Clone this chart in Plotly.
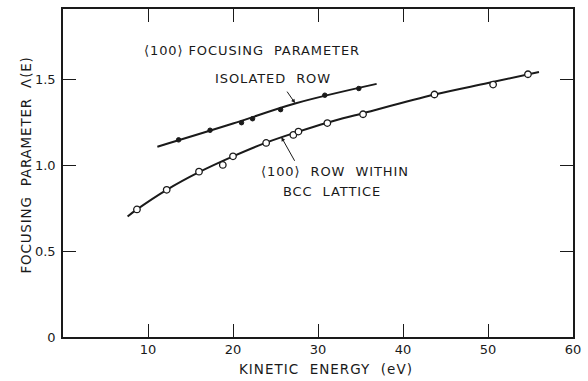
import plotly.graph_objects as go

# Data
iso_x = [13.6, 17.3, 21.0, 22.3, 25.6, 30.8, 34.8]
iso_y = [1.148, 1.204, 1.248, 1.271, 1.324, 1.408, 1.447]

bcc_x = [8.7, 12.2, 16.0, 18.8, 20.0, 23.9, 27.1, 27.7, 31.1, 35.3, 43.7, 50.6, 54.7]
bcc_y = [0.743, 0.857, 0.963, 1.002, 1.052, 1.130, 1.177, 1.196, 1.246, 1.297, 1.412, 1.470, 1.530]

# Hand-drawn fitted curves
iso_curve_x = [11.1, 20.0, 27.3, 36.9]
iso_curve_y = [1.108, 1.243, 1.360, 1.474]

bcc_curve_x = [7.6, 8.7, 12.2, 16.0, 20.0, 23.9, 27.7, 31.1, 35.3, 43.7, 50.0, 56.0]
bcc_curve_y = [0.702, 0.743, 0.857, 0.960, 1.052, 1.132, 1.196, 1.248, 1.303, 1.412, 1.479, 1.543]

x_ticks = [10, 20, 30, 40, 50, 60]
x_ticktext = ["10", "20", "30", "40", "50", "60"]
y_ticks = [0, 0.5, 1.0, 1.5]
y_ticktext = ["0", "0.5", "1.0", "1.5"]

FONT = "DejaVu Sans"
INK = "#1a1a1a"

fig = go.Figure()
fig.add_trace(go.Scatter(x=iso_curve_x, y=iso_curve_y, mode="lines",
                         line=dict(color=INK, width=2, shape="spline"), hoverinfo="skip"))
fig.add_trace(go.Scatter(x=bcc_curve_x, y=bcc_curve_y, mode="lines",
                         line=dict(color=INK, width=2, shape="spline"), hoverinfo="skip"))
fig.add_trace(go.Scatter(x=iso_x, y=iso_y, mode="markers",
                         marker=dict(symbol="circle", size=4.5, color=INK,
                                     line=dict(color=INK, width=1))))
fig.add_trace(go.Scatter(x=bcc_x, y=bcc_y, mode="markers",
                         marker=dict(symbol="circle", size=6.5, color="white",
                                     line=dict(color=INK, width=1.3))))

nb = "\u00a0"


def spaced(s, ls=0.9):
    return f'<span style="letter-spacing:{ls}px">{s}</span>'


ann = [
    dict(x=22.25, y=1.671, text=spaced(f"⟨100⟩{nb}FOCUSING{nb}{nb}PARAMETER"), showarrow=False,
         xanchor="center", yanchor="middle", font=dict(size=13)),
    dict(x=24.76, y=1.507, text=spaced(f"ISOLATED{nb}{nb}ROW"), showarrow=False,
         xanchor="center", yanchor="middle", font=dict(size=13)),
    dict(x=31.95, y=0.963, text=spaced(f"⟨100⟩{nb}{nb}ROW{nb}{nb}WITHIN"), showarrow=False,
         xanchor="center", yanchor="middle", font=dict(size=13)),
    dict(x=31.66, y=0.849, text=spaced(f"BCC{nb}{nb}LATTICE"), showarrow=False,
         xanchor="center", yanchor="middle", font=dict(size=13)),
    # arrows
    dict(x=27.3, y=1.362, ax=-9, ay=-13, text="", showarrow=True,
         arrowhead=2, arrowsize=0.8, arrowwidth=1, arrowcolor=INK),
    dict(x=25.7, y=1.163, ax=14, ay=25, text="", showarrow=True,
         arrowhead=2, arrowsize=0.8, arrowwidth=1, arrowcolor=INK),
    # axis titles
    dict(xref="paper", yref="paper", x=0.516, y=-0.098,
         text=spaced(f"KINETIC{nb}{nb}ENERGY{nb}{nb}(eV)", 1.0),
         showarrow=False, xanchor="center", yanchor="middle", font=dict(size=13.5)),
    dict(xref="paper", yref="paper", x=-0.073, y=0.525,
         text=spaced(f"FOCUSING{nb}{nb}PARAMETER{nb}{nb}Λ(E)", 0.8),
         showarrow=False, xanchor="center", yanchor="middle", textangle=-90, font=dict(size=13.5)),
]

fig.update_layout(
    width=588, height=381,
    margin=dict(l=63, r=11, t=7, b=44),
    paper_bgcolor="white", plot_bgcolor="white",
    showlegend=False,
    font=dict(family=FONT, color=INK, size=13),
    annotations=ann,
)
fig.update_xaxes(range=[0, 60], tickvals=x_ticks, ticktext=x_ticktext,
                 ticks="inside", ticklen=13, tickwidth=1.3, tickcolor=INK,
                 showline=True, linecolor=INK, linewidth=1.5, mirror="ticks",
                 showgrid=False, zeroline=False, tickfont=dict(size=13, family=FONT))
fig.update_yaxes(range=[0, 1.91], tickvals=y_ticks, ticktext=y_ticktext,
                 ticks="inside", ticklen=13, tickwidth=1.3, tickcolor=INK,
                 showline=True, linecolor=INK, linewidth=1.5, mirror="ticks",
                 showgrid=False, zeroline=False, tickfont=dict(size=13, family=FONT),
                 ticklabelstandoff=3)

fig.write_html("out.html")
